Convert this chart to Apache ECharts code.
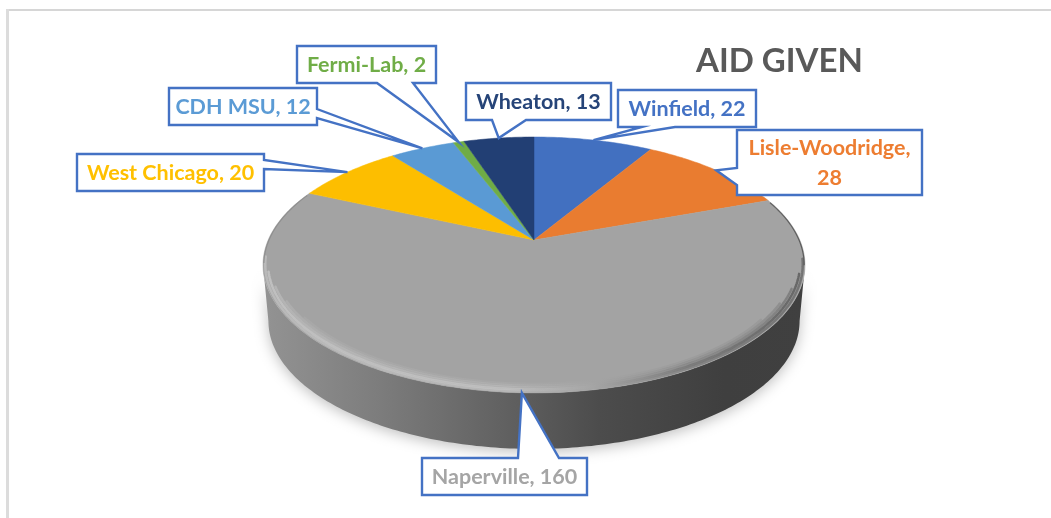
<!DOCTYPE html>
<html>
<head>
	<meta charset="utf-8" />
	<title>AID GIVEN</title>
	<script src="https://cdn.jsdelivr.net/npm/echarts@6/dist/echarts.min.js"></script>
	<style>
		html, body { margin: 0; padding: 0; background: #fff; }
		/* the reference is a soft, upscaled screenshot */
		#main { filter: blur(0.5px); }
	</style>
</head>
<body>
	<div id="main" style="width: 1051px;height: 518px;"></div>
	<script type="text/javascript">

		// data, clockwise from 12 o'clock
		var categories = ["Winfield", "Lisle-Woodridge", "Naperville", "West Chicago", "CDH MSU", "Fermi-Lab", "Wheaton"];
		var aidValues = [22, 28, 160, 20, 12, 2, 13];
		var sliceColors = ["#4270c0", "#e97c30", "#a3a3a3", "#fdbe00", "#5a9ad4", "#6fac46", "#223f74"];
		var labelColors = ["#4472c4", "#ed7d31", "#a5a5a5", "#ffc000", "#5b9bd5", "#70ad47", "#264478"];

		// callout boxes: x, y, w, h, and the edge the pointer leaves from with its two base positions
		var calloutBoxes = [
			{ x: 618, y: 90, w: 138, h: 37, edge: "bottom", a: 642, b: 675 },
			{ x: 737, y: 130, w: 185, h: 65, edge: "left", a: 168, b: 185, wrap: true },
			{ x: 422, y: 458, w: 165, h: 37, edge: "top", a: 518, b: 559 },
			{ x: 77, y: 154, w: 187, h: 37, edge: "right", a: 160, b: 169 },
			{ x: 169, y: 88, w: 148, h: 37, edge: "right", a: 109, b: 118 },
			{ x: 297, y: 46, w: 139, h: 37, edge: "bottom", a: 377, b: 413 },
			{ x: 466, y: 83, w: 145, h: 37, edge: "bottom", a: 492, b: 526 }
		];

		var total = aidValues.reduce(function (s, v) { return s + v; }, 0);

		// perspective view of the pie top, edges stay straight because it is projective
		var view = { cx: 534, cy: 240, a: 265.8, b: 123.1, k: 0.195, wallDrop: 56, wallScale: 0.98 };

		function project(angle, r, drop, xScale) {
			var s = Math.sin(angle) * (r === undefined ? 1 : r);
			var c = Math.cos(angle) * (r === undefined ? 1 : r);
			var w = 1 + view.k * c;
			return [
				view.cx + view.a * (xScale || 1) * s / w,
				view.cy + (drop || 0) - view.b * c / w
			];
		}

		function arc(from, to, r, drop, xScale) {
			var pts = [];
			var n = Math.max(2, Math.ceil(Math.abs(to - from) / 0.015));
			for (var i = 0; i <= n; i++) {
				pts.push(project(from + (to - from) * i / n, r, drop, xScale));
			}
			return pts;
		}

		function startAngle(index) {
			var sum = 0;
			for (var i = 0; i < index; i++) sum += aidValues[i];
			return sum / total * Math.PI * 2;
		}

		function renderSlice(params, api) {
			var i = params.dataIndex;
			var from = startAngle(i);
			var to = from + api.value(0) / total * Math.PI * 2;
			return {
				type: "polygon",
				shape: { points: [[view.cx, view.cy]].concat(arc(from, to)) },
				style: { fill: sliceColors[i], stroke: sliceColors[i], lineWidth: 0.5 }
			};
		}

		// the side of the disc
		function renderWall() {
			var right = Math.acos(-view.k);
			var left = Math.PI * 2 - right;
			var wallPts = arc(right, left).concat(arc(left, right, 1, view.wallDrop, view.wallScale));
			var wallFill = new echarts.graphic.LinearGradient(263, 0, 806, 0, [
				{ offset: 0, color: "#939393" },
				{ offset: 0.2, color: "#7e7e7e" },
				{ offset: 0.42, color: "#646464" },
				{ offset: 0.62, color: "#4c4c4c" },
				{ offset: 0.85, color: "#3f3f3f" },
				{ offset: 1, color: "#404040" }
			], true);
			return {
				type: "polygon",
				shape: { points: wallPts },
				style: {
					fill: wallFill,
					shadowBlur: 14,
					shadowColor: "rgba(0,0,0,0.25)",
					shadowOffsetY: 3
				}
			};
		}

		// soft bevel along the front edge of the top, light on the left and dark on the right
		function renderBevel() {
			var bevelStroke = new echarts.graphic.LinearGradient(263, 0, 806, 0, [
				{ offset: 0, color: "#cccccc" },
				{ offset: 0.45, color: "#c6c6c6" },
				{ offset: 0.6, color: "#a8a8a8" },
				{ offset: 0.78, color: "#6e6e6e" },
				{ offset: 1, color: "#4c4c4c" }
			], true);
			var edgeStroke = new echarts.graphic.LinearGradient(263, 0, 806, 0, [
				{ offset: 0, color: "#8a8a8a" },
				{ offset: 0.6, color: "#8a8a8a" },
				{ offset: 1, color: "#4a4a4a" }
			], true);
			var bevelFrom = 1.72;
			var bevelTo = 4.58;
			var children = [];
			// inner passes stop earlier so the band tapers off at both ends
			[[0.952, 0.12, 0.5], [0.962, 0.25, 0.36], [0.972, 0.42, 0.24], [0.982, 0.7, 0.12], [0.992, 0.55, 0]].forEach(function (b) {
				children.push({
					type: "polyline",
					shape: { points: arc(bevelFrom + b[2], bevelTo - b[2], b[0]) },
					style: { fill: null, stroke: bevelStroke, lineWidth: 2.5, opacity: b[1], lineCap: "round" }
				});
			});
			// thin darker lip on the two upper sides
			[[startAngle(2) + 0.02, bevelFrom + 0.05], [bevelTo - 0.05, startAngle(3) - 0.02]].forEach(function (r) {
				children.push({
					type: "polyline",
					shape: { points: arc(r[0], r[1], 0.997) },
					style: { fill: null, stroke: edgeStroke, lineWidth: 1.2, opacity: 0.8 }
				});
			});
			return { type: "group", children: children };
		}

		function calloutPoints(box, tip) {
			var x2 = box.x + box.w;
			var y2 = box.y + box.h;
			var pts = [[box.x, box.y]];
			if (box.edge === "top") pts.push([box.a, box.y], tip, [box.b, box.y]);
			pts.push([x2, box.y]);
			if (box.edge === "right") pts.push([x2, box.a], tip, [x2, box.b]);
			pts.push([x2, y2]);
			if (box.edge === "bottom") pts.push([box.b, y2], tip, [box.a, y2]);
			pts.push([box.x, y2]);
			if (box.edge === "left") pts.push([box.x, box.b], tip, [box.x, box.a]);
			return pts;
		}

		function renderCallout(params, api) {
			var i = params.dataIndex;
			var box = calloutBoxes[i];
			var value = api.value(0);
			var mid = startAngle(i) + value / total * Math.PI;
			var text = categories[i] + (box.wrap ? ",\n" : ", ") + value;
			return {
				type: "group",
				children: [{
					type: "polygon",
					shape: { points: calloutPoints(box, project(mid)) },
					style: { fill: "#fff", stroke: "#4472c4", lineWidth: 2.4, lineJoin: "miter" }
				}, {
					type: "text",
					z2: 5,
					style: {
						text: text,
						x: box.x + box.w / 2,
						y: box.y + box.h / 2 + 1,
						align: "center",
						verticalAlign: "middle",
						fill: labelColors[i],
						fontFamily: "Lato",
						fontWeight: "bold",
						fontSize: 21.5,
						lineHeight: 30
					}
				}]
			};
		}

		var seriesData = categories.map(function (name, i) {
			return { name: name, value: aidValues[i] };
		});

		var myChart = echarts.init(document.getElementById("main"));

		var option = {
			animation: false,
			backgroundColor: "#fff",
			title: {
				text: "AID GIVEN",
				left: 691,
				top: 40,
				textStyle: { color: "#595959", fontFamily: "Lato", fontWeight: "bold", fontSize: 33 }
			},
			graphic: [
				{ type: "rect", shape: { x: 6, y: 9, width: 1045, height: 2 }, style: { fill: "#d6d6d6" }, silent: true },
				{ type: "rect", shape: { x: 6, y: 9, width: 3, height: 509 }, style: { fill: "#dcdcdc" }, silent: true }
			],
			series: [
				{ type: "custom", name: "side", coordinateSystem: "none", z: 1, silent: true, renderItem: renderWall, data: [0] },
				{ type: "custom", name: "AID GIVEN", coordinateSystem: "none", z: 2, silent: true, renderItem: renderSlice, data: seriesData },
				{ type: "custom", name: "bevel", coordinateSystem: "none", z: 3, silent: true, renderItem: renderBevel, data: [0] },
				{ type: "custom", name: "labels", coordinateSystem: "none", z: 4, silent: true, renderItem: renderCallout, data: seriesData }
			]
		};

		myChart.setOption(option);

	</script>
</body>
</html>
